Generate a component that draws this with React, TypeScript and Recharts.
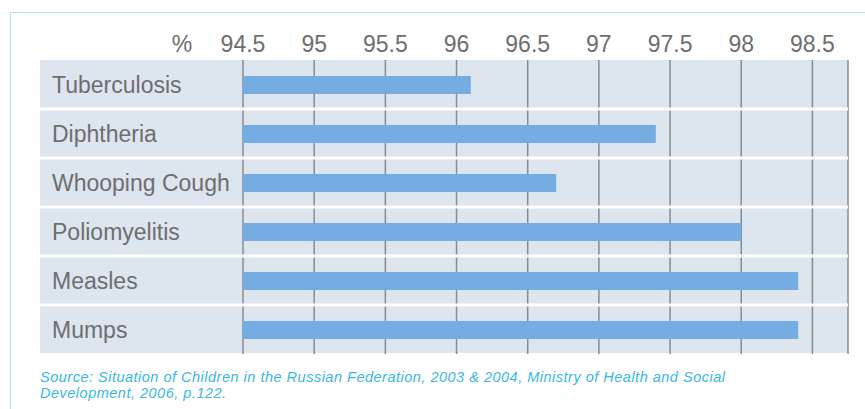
import { BarChart, Bar, XAxis, YAxis, CartesianGrid } from 'recharts'

// immunisation coverage by disease, %
const diseases = ['Tuberculosis', 'Diphtheria', 'Whooping Cough', 'Poliomyelitis', 'Measles', 'Mumps']
const coverage = [96.1, 97.4, 96.7, 98.0, 98.4, 98.4]
const xTicks = [94.5, 95, 95.5, 96, 96.5, 97, 97.5, 98, 98.5]

const data = diseases.map((name, i) => ({ name, value: coverage[i] }))

const FONT = '"Liberation Sans", Arial, sans-serif'
const TEXT = '#6e6e6e'
const PANEL = '#dde5ee'

function PercentTick({ x, y, payload, index }: any) {
  return (
    <g>
      {index === 0 && (
        <text x={x - 61} y={y} textAnchor="middle" fontSize={23} fill={TEXT} fontFamily={FONT}>%</text>
      )}
      <text x={x} y={y} textAnchor="middle" fontSize={23} fill={TEXT} fontFamily={FONT}>{payload.value}</text>
    </g>
  )
}

function DiseaseTick({ y, payload, index }: any) {
  const half = payload.offset || 24.5
  return (
    <g>
      {index > 0 && <line x1={40} x2={848} y1={y - half} y2={y - half} stroke="#fff" strokeWidth={3} />}
      <text x={52} y={y} dy={8} textAnchor="start" fontSize={23} fill={TEXT} fontFamily={FONT}>{payload.value}</text>
    </g>
  )
}

export default function App() {
  return (
    <div style={{ position: 'absolute', left: 0, top: 0, width: 865, height: 409, background: '#fff', overflow: 'hidden' }}>
      {/* light blue frame */}
      <div style={{ position: 'absolute', left: 10, top: 12, right: 0, bottom: 0, borderTop: '1.5px solid #b4e3f7', borderLeft: '1.5px solid #b4e3f7' }} />
      {/* grey panel behind labels and plot */}
      <div style={{ position: 'absolute', left: 40, top: 60, width: 808, height: 293, background: PANEL }} />
      <div style={{ position: 'absolute', left: 0, top: 0 }}>
        <BarChart width={865} height={409} data={data} layout="vertical" barSize={18}
          margin={{ top: 30, right: 17, left: 0, bottom: 55 }}>
          <CartesianGrid horizontal={false} stroke="#858b92" strokeWidth={1.5} />
          <XAxis type="number" orientation="top" domain={[94.5, 98.75]} ticks={xTicks} allowDataOverflow
            height={30} tickSize={0} tickMargin={8} axisLine={false} tickLine={false} tick={<PercentTick />} />
          <YAxis type="category" dataKey="name" width={243} axisLine={false} tickLine={false} tick={<DiseaseTick />} />
          <Bar dataKey="value" fill="#75ade2" isAnimationActive={false} />
        </BarChart>
      </div>
      <div style={{ position: 'absolute', left: 40, top: 369, width: 800, fontFamily: FONT, fontStyle: 'italic', fontSize: 14.5, letterSpacing: '0.5px', lineHeight: '16px', color: '#3ab7e6' }}>
        Source: Situation of Children in the Russian Federation, 2003 &amp; 2004, Ministry of Health and Social
        <br />
        Development, 2006, p.122.
      </div>
    </div>
  )
}
